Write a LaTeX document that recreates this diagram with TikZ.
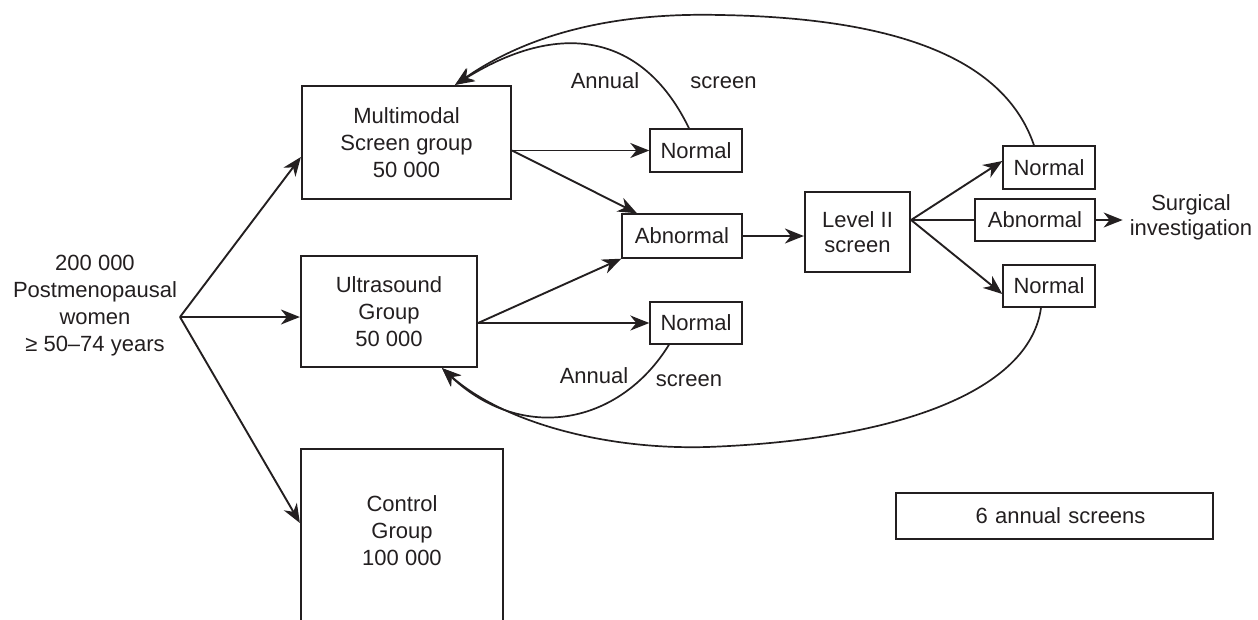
\documentclass[tikz,border=0pt]{standalone}
\usepackage{fontspec}
\setmainfont{Liberation Sans}
\usetikzlibrary{arrows.meta}
\definecolor{ink}{RGB}{35,31,32}
\begin{document}
\begin{tikzpicture}[x=1pt,y=-1pt,
  every node/.style={font=\fontsize{22}{27}\selectfont, text=ink},
  bigbox/.style={draw=ink, line width=2.2pt, align=center, inner sep=0pt},
  smallbox/.style={draw=ink, line width=1.4pt, inner sep=0pt},
  arr/.style={draw=ink, line width=1.9pt, -{Stealth[length=19pt,width=15pt,inset=6pt]}},
  ln/.style={draw=ink, line width=1.9pt},
  carr/.style={draw=ink, line width=1.7pt, -{Stealth[length=19pt,width=15pt,inset=6pt]}},
  lbl/.style={anchor=base, inner sep=0pt}]
\useasboundingbox (0,0) rectangle (1258,619);
\clip (0,0) rectangle (1258,619);

% main group boxes
\node[bigbox, minimum width=209pt, minimum height=113pt] (mm) at (406.5,142.5) {Multimodal\\Screen group\\50 000};
\node[bigbox, minimum width=176pt, minimum height=111pt] (us) at (389,311.5) {Ultrasound\\Group\\50 000};
\node[bigbox, minimum width=202pt, minimum height=192pt, anchor=north] (control) at (402,448) {};
\node[align=center, inner sep=0pt] (controltxt) at (402,530.5) {Control\\Group\\100 000};
\node[align=center, inner sep=0pt] (pop) at (95,306) {200 000\\Postmenopausal\\women\\≥ 50–74 years};
\coordinate (branch) at (180,317);

% result boxes
\node[smallbox, minimum width=92pt, minimum height=43pt] (n1) at (696,150.5) {Normal};
\node[smallbox, minimum width=120pt, minimum height=44pt] (ab1) at (682,236) {Abnormal};
\node[smallbox, minimum width=92pt, minimum height=42pt] (n2) at (696,323) {Normal};
\node[bigbox, minimum width=105pt, minimum height=80pt, font=\fontsize{22}{25}\selectfont] (lvl) at (857.5,232) {Level II\\screen};
\node[smallbox, minimum width=92pt, minimum height=43pt] (n3) at (1049,167.5) {Normal};
\node[smallbox, minimum width=120pt, minimum height=42pt] (ab2) at (1035,220) {Abnormal};
\node[smallbox, minimum width=92pt, minimum height=42pt] (n4) at (1049,286) {Normal};
\node[align=center, inner xsep=7pt, inner ysep=0pt, font=\fontsize{22}{25}\selectfont] (surg) at (1191,217) {Surgical\\investigation};
\node[smallbox, line width=1.2pt, minimum width=317pt, minimum height=46pt, text width=317pt, align=center] (six) at (1054.5,516) {\hspace*{12pt}6 annual screens};

% labels
\node[lbl] (a1) at (605,88) {Annual};
\node[lbl] (s1) at (723.5,88) {screen};
\node[lbl] (a2) at (594,383) {Annual};
\node[lbl] (s2) at (689,386) {screen};

% straight connectors
\draw[arr] (branch) -- ([yshift=-14.5pt]mm.west);
\draw[arr] (branch) -- ([yshift=-5.5pt]us.west);
\draw[arr] (branch) -- ([yshift=-75pt]control.north west);
\draw[arr] (mm.east |- n1.west) -- (n1.west);
\draw[arr] (mm.east |- n1.west) -- ([xshift=-45pt]ab1.north);
\draw[arr] (us.east |- n2.west) -- (ab1.south west);
\draw[arr] (us.east |- n2.west) -- (n2.west);
\draw[arr] (ab1.east) -- (lvl.west |- ab1.east);
\coordinate (lv) at (lvl.east |- ab2.west);
\draw[arr] (lv) -- ([yshift=6.5pt]n3.west);
\draw[ln] (lv) -- (ab2.west);
\draw[arr] (lv) -- ([yshift=-8pt]n4.west);
\draw[arr] (ab2.east) -- (surg.west |- ab2.east);

% annual screen loops
\draw[carr] ([xshift=-7pt]n1.north) .. controls (646,39) and (566,16) .. ([xshift=48.5pt]mm.north);
\draw[carr] ([xshift=-15pt]n3.north) .. controls (1005,60) and (900,18) .. (720,15) .. controls (600,12) and (520,40) .. ([xshift=48.5pt]mm.north);
\draw[carr] ([xshift=-27pt]n2.south) .. controls (619.6,424.75) and (522.3,443.9) .. ([xshift=53pt]us.south);
\draw[carr] ([xshift=-8pt]n4.south) .. controls (1030,390) and (900,440) .. (707,447) .. controls (600,450) and (500,420) .. ([xshift=53pt]us.south);
\end{tikzpicture}
\end{document}
